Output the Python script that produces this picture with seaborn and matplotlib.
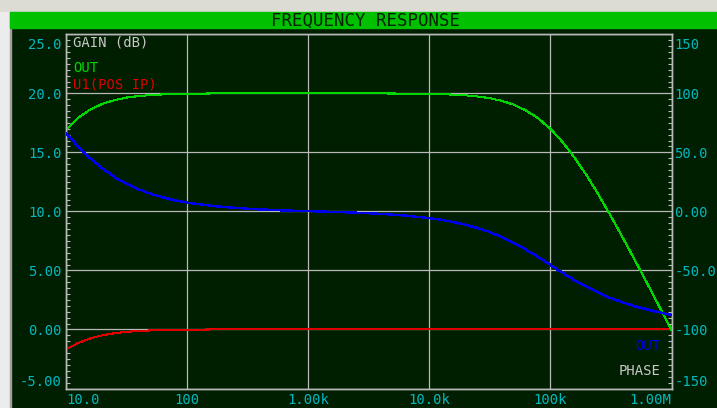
import matplotlib
matplotlib.use("Agg")
import matplotlib.pyplot as plt
from matplotlib.patches import Rectangle
from matplotlib.ticker import FixedLocator, MultipleLocator, NullLocator
from matplotlib.transforms import ScaledTranslation
import pandas as pd
import seaborn as sns

# Sweep frequencies (Hz)
freq = [10, 12.6, 15.8, 20, 25.1, 31.6, 39.8, 50, 63.1, 79.4,
        100, 158, 251, 398, 631, 1000, 1580, 2510, 3980, 6310,
        10000, 12600, 15800, 20000, 25100, 31600, 39800, 50100, 63100, 79400,
        100000, 126000, 158000, 200000, 251000, 316000, 398000, 501000,
        631000, 794000, 1000000]

# OUT gain (dB)
out_gain = [16.90, 17.92, 18.62, 19.11, 19.42, 19.64, 19.77, 19.85, 19.91, 19.94,
            19.96, 19.99, 20.00, 20.00, 20.00, 20.00, 20.00, 20.00, 19.99, 19.98,
            19.96, 19.93, 19.89, 19.83, 19.73, 19.59, 19.36, 19.03, 18.54, 17.88,
            16.99, 15.88, 14.56, 13.03, 11.37, 9.59, 7.73, 5.83,
            3.89, 1.93, -0.04]

# U1(POS IP) gain (dB)
ip_gain = [-1.69, -1.14, -0.76, -0.49, -0.32, -0.20, -0.13, -0.08, -0.05, -0.03,
           -0.02, 0.0, 0.0, 0.0, 0.0, 0.0, 0.0, 0.0, 0.0, 0.0,
           0.0, 0.0, 0.0, 0.0, 0.0, 0.0, 0.0, 0.0, 0.0, 0.0,
           0.0, 0.0, 0.0, 0.0, 0.0, 0.0, 0.0, 0.0,
           0.0, 0.0, 0.0]

# OUT phase (degrees)
out_phase = [66.4, 54.9, 45.0, 36.3, 29.2, 23.4, 18.7, 14.9, 11.9, 9.4,
             7.4, 4.7, 2.9, 1.7, 0.8, 0.2, -0.4, -1.1, -2.1, -3.5,
             -5.7, -7.2, -9.0, -11.4, -14.2, -17.6, -21.8, -26.8, -32.5, -38.7,
             -45.3, -52.0, -58.3, -64.1, -69.2, -73.5, -77.2, -80.4,
             -83.1, -85.5, -87.7]

freq_ticks = [10, 100, 1000, 10000, 100000, 1000000]
freq_labels = ["10.0", "100", "1.00k", "10.0k", "100k", "1.00M"]
gain_ticks = [-5, 0, 5, 10, 15, 20, 25]
gain_labels = ["-5.00", "0.00", "5.00", "10.0", "15.0", "20.0", "25.0"]
phase_ticks = [-150, -100, -50, 0, 50, 100, 150]
phase_labels = ["-150", "-100", "-50.0", "0.00", "50.0", "100", "150"]

BG = "#001e00"
GRID = "#b8b8b8"
CYAN = "#00b8c0"
GREEN = "#00d800"
RED = "#e00000"
BLUE = "#0000f0"
LIGHT = "#c8c8c8"
BAR = "#00c000"

sns.set_style("dark", {"axes.facecolor": BG, "figure.facecolor": BG})
plt.rcParams["font.family"] = ["DejaVu Sans Mono", "DejaVu Sans"]

W, H = 717, 408
fig = plt.figure(figsize=(W / 100, H / 100), dpi=100)


def fx(x):
    return x / W


def fy(y):
    return 1 - y / H


# window chrome: light frame strips and the green title bar
fig.add_artist(Rectangle((0, fy(11.5)), 1, 11.5 / H, transform=fig.transFigure,
                         color="#dcdcd4", zorder=0))
fig.add_artist(Rectangle((0, 0), fx(10), fy(11.5), transform=fig.transFigure,
                         color="#ececec", zorder=0))
fig.add_artist(Rectangle((fx(10), 0), 1.2 / W, fy(11.5), transform=fig.transFigure,
                         color="#a0a0a0", zorder=0))
fig.add_artist(Rectangle((fx(10), fy(28.3)), 1 - fx(10), (28.3 - 11.5) / H,
                         transform=fig.transFigure, color=BAR, zorder=0))
fig.text(fx(365), fy(20.5), "FREQUENCY RESPONSE", ha="center", va="center",
         color="#002000", fontsize=12.5)

ax = fig.add_axes([fx(66), fy(388.5), (671.5 - 66) / W, (388.5 - 34.3) / H])
ax.set_xscale("log")
ax2 = ax.twinx()

df = pd.DataFrame({"freq": freq, "out_gain": out_gain,
                   "ip_gain": ip_gain, "out_phase": out_phase})

sns.lineplot(data=df, x="freq", y="ip_gain", ax=ax, color=RED, lw=0.75,
             zorder=5, antialiased=False)
sns.lineplot(data=df, x="freq", y="out_gain", ax=ax, color=GREEN, lw=0.75,
             zorder=6, antialiased=False)
sns.lineplot(data=df, x="freq", y="out_phase", ax=ax2, color=BLUE, lw=1.0,
             zorder=6, antialiased=False)

ax.set_xlim(10, 1e6)
ax.set_ylim(-5, 25)
ax2.set_ylim(-150, 150)
for a in (ax, ax2):
    a.set_xlabel("")
    a.set_ylabel("")
    for s in a.spines.values():
        s.set_visible(True)
        s.set_color(GRID)
        s.set_linewidth(1.0)

ax.grid(True, which="major", color=GRID, lw=0.9)
ax.set_axisbelow(True)

# x axis
ax.xaxis.set_major_locator(FixedLocator(freq_ticks))
ax.set_xticklabels(freq_labels)
ax.xaxis.set_minor_locator(NullLocator())
ax.tick_params(axis="x", which="major", length=0, pad=3, labelcolor=CYAN,
               labelsize=10)
xl = ax.get_xticklabels()
xl[0].set_ha("left")
xl[-1].set_ha("right")

# left gain axis
ax.set_yticks(gain_ticks, labels=gain_labels)
ax.yaxis.set_minor_locator(MultipleLocator(0.5))
ax.tick_params(axis="y", which="major", length=0, pad=3, labelcolor=CYAN,
               labelsize=10, left=True, right=False)
ax.tick_params(axis="y", which="minor", direction="in", length=3, width=0.8,
               color=GRID, left=True, right=False)

# right phase axis
ax2.set_yticks(phase_ticks, labels=phase_labels)
ax2.yaxis.set_minor_locator(MultipleLocator(5))
ax2.tick_params(axis="y", which="major", length=0, pad=2, labelcolor=CYAN,
                labelsize=10, right=True, left=False)
ax2.tick_params(axis="y", which="minor", direction="in", length=3, width=0.8,
                color=GRID, right=True, left=False)

# keep the end labels inside the plot's height
down = ScaledTranslation(0, -3 / 72, fig.dpi_scale_trans)
for labels in (ax.get_yticklabels(), ax2.get_yticklabels()):
    labels[0].set_va("bottom")
    labels[-1].set_va("top")
    labels[-1].set_transform(labels[-1].get_transform() + down)

# trace legends
fig.text(fx(73), fy(43), "GAIN (dB)", color=LIGHT, ha="left", va="center", fontsize=10)
fig.text(fx(73), fy(67.5), "OUT", color=GREEN, ha="left", va="center", fontsize=10)
fig.text(fx(73), fy(84), "U1(POS IP)", color=RED, ha="left", va="center", fontsize=10)
fig.text(fx(660), fy(346.5), "OUT", color=BLUE, ha="right", va="center", fontsize=10)
fig.text(fx(660), fy(371), "PHASE", color=LIGHT, ha="right", va="center", fontsize=10)

fig.savefig("out.png", dpi=100, facecolor=BG)
